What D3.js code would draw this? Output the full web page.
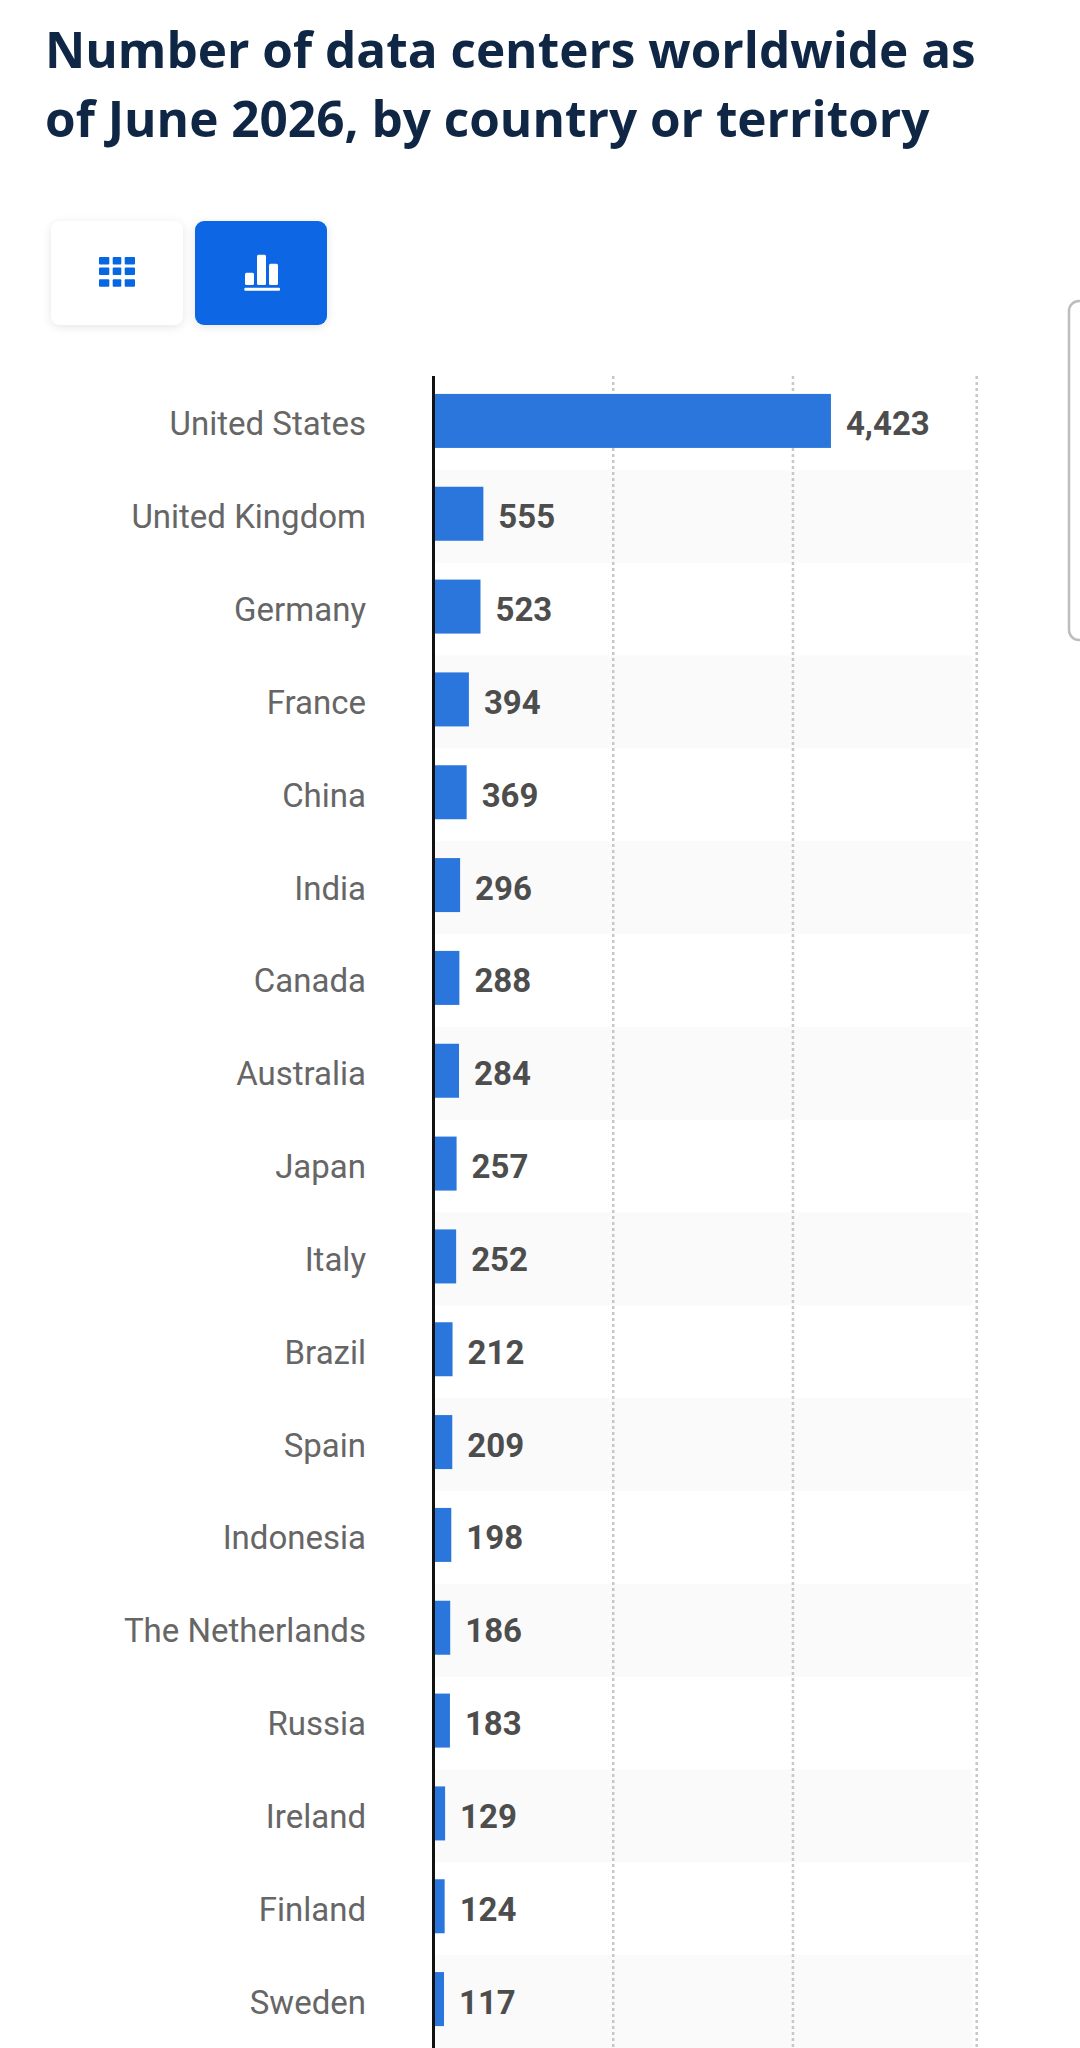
<!DOCTYPE html>
<html>
<head>
<meta charset="utf-8">
<script src="https://cdn.jsdelivr.net/npm/d3@7"></script>
<style>
  body { margin: 0; background: #fff; }
  svg { display: block; }
</style>
</head>
<body>
<svg id="chart"></svg>
<script>
const titleLines = ["Number of data centers worldwide as", "of June 2026, by country or territory"];
const countries = ["United States", "United Kingdom", "Germany", "France", "China", "India", "Canada", "Australia", "Japan", "Italy", "Brazil", "Spain", "Indonesia", "The Netherlands", "Russia", "Ireland", "Finland", "Sweden"];
const centers = [4423, 555, 523, 394, 369, 296, 288, 284, 257, 252, 212, 209, 198, 186, 183, 129, 124, 117];
const gridValues = [2000, 4000, 6045];

const width = 1080;
const height = 2048;

const svg = d3.select("#chart")
    .attr("width", width)
    .attr("height", height)
    .attr("viewBox", [0, 0, width, height]);

const defs = svg.append("defs");
defs.append("filter")
    .attr("id", "soft")
    .attr("x", "-20%").attr("y", "-20%").attr("width", "140%").attr("height", "140%")
    .append("feDropShadow")
    .attr("dx", 0).attr("dy", 2).attr("stdDeviation", 5)
    .attr("flood-color", "#000").attr("flood-opacity", 0.1);

// Title
svg.append("g").selectAll("text")
    .data(titleLines)
    .join("text")
    .attr("x", 45)
    .attr("y", (_, i) => 68 + i * 69)
    .attr("font-family", "'Open Sans'")
    .attr("font-weight", 700)
    .attr("font-size", 49.5)
    .attr("fill", "#0f2744")
    .text(d => d);

// Table / chart switch buttons
const buttons = svg.append("g");
buttons.append("rect")
    .attr("x", 51).attr("y", 221).attr("width", 132).attr("height", 104).attr("rx", 9)
    .attr("fill", "#fff").attr("filter", "url(#soft)");
buttons.append("rect")
    .attr("x", 195).attr("y", 221).attr("width", 132).attr("height", 104).attr("rx", 9)
    .attr("fill", "#0766e4").attr("filter", "url(#soft)");

const gridIcon = buttons.append("g").attr("fill", "#0766e4");
d3.cross([[99, 10.3], [112.7, 8.6], [124.7, 10.3]], [257, 267.5, 279.3]).forEach(([col, cy]) => {
    gridIcon.append("rect")
        .attr("x", col[0]).attr("y", cy)
        .attr("width", col[1]).attr("height", 7.5).attr("rx", 1);
});
const barIcon = buttons.append("g").attr("fill", "#fff");
[[245, 272.7, 9, 12.3], [257, 254.7, 9, 30.3], [269, 263.7, 9, 21.3]].forEach(([ix, iy, w, h]) => {
    barIcon.append("rect").attr("x", ix).attr("y", iy).attr("width", w).attr("height", h).attr("rx", 1.5);
});
barIcon.append("rect").attr("x", 244.3).attr("y", 287.7).attr("width", 35.7).attr("height", 3).attr("rx", 1);

// Cut-off box at the right edge
svg.append("rect")
    .attr("x", 1069).attr("y", 301).attr("width", 40).attr("height", 339).attr("rx", 10)
    .attr("fill", "#fff").attr("stroke", "#bdbdbd").attr("stroke-width", 2.5);

const x = d3.scaleLinear([0, 6045], [433.5, 976.7]);
const y = d3.scaleBand(countries, [377, 2048]);
const barHeight = 54;
const barOffset = (y.bandwidth() - barHeight) / 2 - 2.5;

// Alternating rows
svg.append("g").selectAll("rect")
    .data(countries.filter((_, i) => i % 2 == 1))
    .join("rect")
    .attr("x", x(0))
    .attr("y", d => y(d))
    .attr("width", x(6000) - x(0))
    .attr("height", y.bandwidth())
    .attr("fill", "#fafafa");

// Dotted grid lines
svg.append("g").selectAll("line")
    .data(gridValues)
    .join("line")
    .attr("x1", d => x(d))
    .attr("x2", d => x(d))
    .attr("y1", 376)
    .attr("y2", height)
    .attr("stroke", "#c8c8c8")
    .attr("stroke-width", 2.5)
    .attr("stroke-dasharray", "3 3");

// Bars
svg.append("g").selectAll("rect")
    .data(countries)
    .join("rect")
    .attr("x", x(0))
    .attr("y", d => y(d) + barOffset)
    .attr("width", (_, i) => x(centers[i]) - x(0))
    .attr("height", barHeight)
    .attr("fill", "#2a76dd");

// Axis line
svg.append("line")
    .attr("x1", x(0)).attr("x2", x(0))
    .attr("y1", 376).attr("y2", height)
    .attr("stroke", "#111")
    .attr("stroke-width", 3);

// Country labels
svg.append("g").selectAll("text")
    .data(countries)
    .join("text")
    .attr("x", 366)
    .attr("y", d => y(d) + y.bandwidth() / 2 + 12)
    .attr("text-anchor", "end")
    .attr("font-family", "Roboto")
    .attr("font-size", 33)
    .attr("fill", "#666")
    .text(d => d);

// Value labels
svg.append("g").selectAll("text")
    .data(centers)
    .join("text")
    .attr("x", d => x(d) + 15)
    .attr("y", (_, i) => y(countries[i]) + y.bandwidth() / 2 + 12)
    .attr("font-family", "Roboto")
    .attr("font-weight", 700)
    .attr("font-size", 33)
    .attr("fill", "#4d4d4d")
    .text(d => d3.format(",")(d));
</script>
</body>
</html>
